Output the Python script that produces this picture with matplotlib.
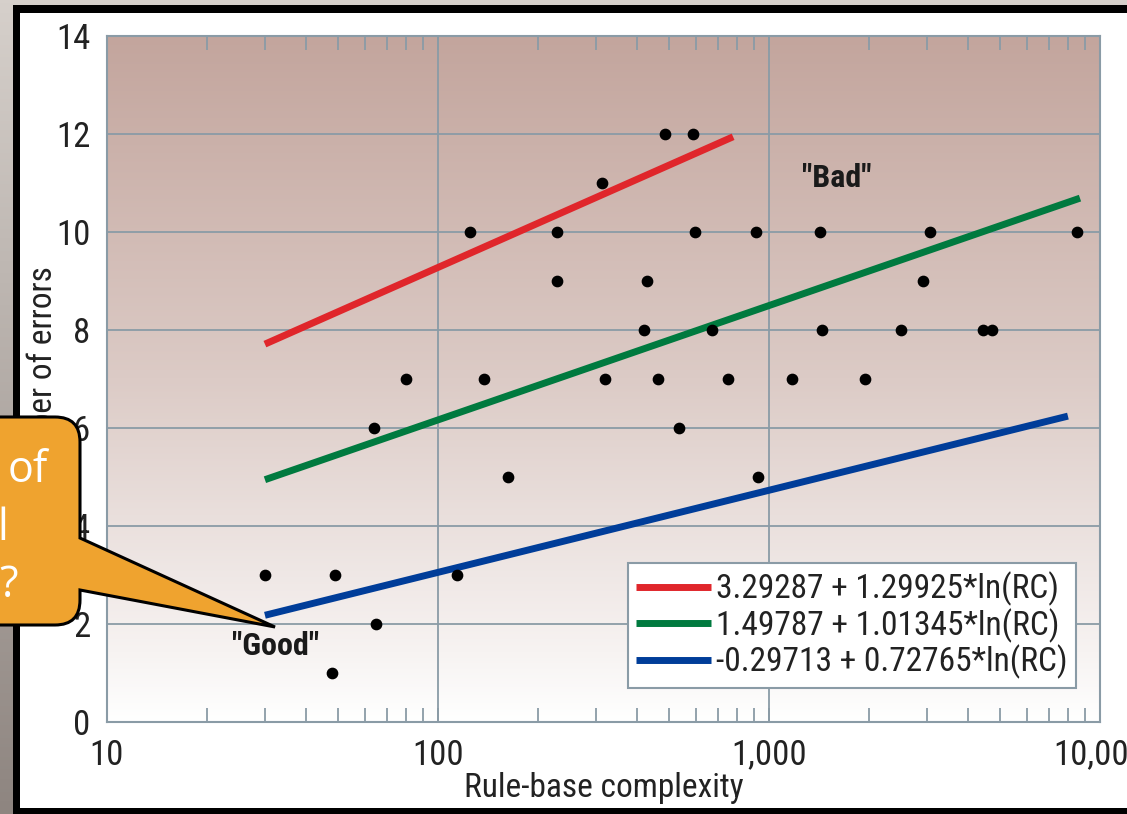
import numpy as np
import matplotlib
matplotlib.use("Agg")
import matplotlib.pyplot as plt
from matplotlib.colors import LinearSegmentedColormap
from matplotlib.path import Path
from matplotlib.patches import PathPatch, Rectangle
from matplotlib.transforms import IdentityTransform
from matplotlib.ticker import LogLocator, FuncFormatter, NullFormatter

# data
rule_complexity = [30, 49, 48, 65, 64, 80, 114, 125, 138, 163,
                   229, 229, 313, 320, 419, 428, 462, 485, 535, 589,
                   597, 673, 752, 914, 927, 1173, 1426, 1446, 1951, 2506,
                   2918, 3064, 4434, 4725, 8513]
num_errors = [3, 3, 1, 2, 6, 7, 3, 10, 7, 5,
              10, 9, 11, 7, 8, 9, 7, 12, 6, 12,
              10, 8, 7, 10, 5, 7, 10, 8, 7, 8,
              9, 10, 8, 8, 10]

# fitted curves: a + b*ln(RC)
fit_intercepts = [3.29287, 1.49787, -0.29713]
fit_slopes = [1.29925, 1.01345, 0.72765]
fit_start = [30, 30, 30]
fit_end = [779, 8700, 8000]
fit_colors = ["#e0262b", "#007a3f", "#003d99"]
fit_labels = ["3.29287 + 1.29925*ln(RC)",
              "1.49787 + 1.01345*ln(RC)",
              "-0.29713 + 0.72765*ln(RC)"]

x_ticks = [10, 100, 1000, 10000]
y_ticks = [0, 2, 4, 6, 8, 10, 12, 14]

W, H = 1127, 814
FONT = ["Roboto Condensed", "DejaVu Sans"]
GRID = "#8a9ba6"
TXT = "#222222"

def fx(x):
    return x / W

def fy(y):
    return 1 - y / H

fig = plt.figure(figsize=(W / 100, H / 100), dpi=100)

# slide background
bg = fig.add_axes([0, 0, 1, 1], zorder=-3)
bg.imshow(np.linspace(0, 1, 256).reshape(-1, 1), aspect="auto",
          cmap=LinearSegmentedColormap.from_list("slide", ["#d6d0cb", "#8e8580"]),
          extent=[0, 1, 0, 1])
bg.axis("off")

# black frame with white inside
fig.add_artist(Rectangle((fx(13), fy(840)), (1160 - 13) / W, (840 - 5) / H,
                         transform=fig.transFigure, facecolor="black",
                         edgecolor="none", zorder=-2))
fig.add_artist(Rectangle((fx(20), fy(808)), (1160 - 20) / W, (808 - 13) / H,
                         transform=fig.transFigure, facecolor="white",
                         edgecolor="none", zorder=-1))

rect = [fx(107), fy(722), (1100 - 107) / W, (722 - 36) / H]

# gradient plot background
gax = fig.add_axes(rect, zorder=0.5)
gax.imshow(np.linspace(0, 1, 256).reshape(-1, 1), aspect="auto",
           cmap=LinearSegmentedColormap.from_list(
               "plotbg", [(0, "#c3a59d"), (0.5, "#dccbc6"), (0.9, "#f7f3f2"), (1, "#ffffff")]),
           extent=[0, 1, 0, 1])
gax.axis("off")

ax = fig.add_axes(rect, zorder=1)
ax.set_facecolor("none")
ax.set_xscale("log")
ax.set_xlim(10, 10000)
ax.set_ylim(0, 14)

for a, b, x0, x1, c, lab in zip(fit_intercepts, fit_slopes, fit_start, fit_end,
                                fit_colors, fit_labels):
    xs = np.array([x0, x1])
    ax.plot(xs, a + b * np.log(xs), color=c, lw=5, label=lab,
            solid_capstyle="butt", zorder=3)

ax.scatter(rule_complexity, num_errors, s=55, color="black", zorder=4)

ax.xaxis.set_major_locator(LogLocator(base=10))
ax.xaxis.set_minor_locator(LogLocator(base=10, subs=np.arange(2, 10)))
ax.xaxis.set_minor_formatter(NullFormatter())
ax.set_xticks(x_ticks)
ax.xaxis.set_major_formatter(FuncFormatter(lambda v, p: "{:,.0f}".format(v)))
ax.set_yticks(y_ticks)

ax.grid(True, which="major", color=GRID, lw=1.3)
for s in ax.spines.values():
    s.set_color(GRID)
    s.set_linewidth(1.5)

ax.tick_params(axis="x", which="both", direction="in", top=True, bottom=True,
               length=10, width=1.3, color=GRID, pad=12, labelsize=25,
               labelcolor=TXT)
ax.tick_params(axis="y", length=0, pad=12, labelsize=25, labelcolor=TXT)
for lab in ax.get_xticklabels() + ax.get_yticklabels():
    lab.set_family(FONT)

ax.set_xlabel("Rule-base complexity", fontsize=24, family=FONT, color=TXT, labelpad=0)
ax.set_ylabel("Number of errors", fontsize=24, family=FONT, color=TXT, labelpad=-2)

ax.text(32.4, 1.55, '"Good"', ha="center", va="center", fontsize=23,
        fontweight="bold", family=FONT, color="#1a1a1a", zorder=5)
ax.text(1600, 11.1, '"Bad"', ha="center", va="center", fontsize=23,
        fontweight="bold", family=FONT, color="#1a1a1a", zorder=5)

leg = ax.legend(loc="lower right", bbox_to_anchor=(0.976, 0.05),
                prop={"family": FONT, "size": 24}, frameon=True, fancybox=False,
                edgecolor=GRID, framealpha=1, handlelength=2.25, handletextpad=0.15,
                labelspacing=0.06, borderpad=0.25, borderaxespad=0)
leg.get_frame().set_linewidth(1.5)
for t in leg.get_texts():
    t.set_color(TXT)

# orange callout over the left side
r = 25
verts = [(-100, 397), (80 - r, 397), (80, 397), (80, 397 - r), (80, 276),
         (275, 187), (80, 224), (80, 189 + r), (80, 189), (80 - r, 189),
         (-100, 189), (-100, 397)]
codes = [Path.MOVETO, Path.LINETO, Path.CURVE3, Path.CURVE3, Path.LINETO,
         Path.LINETO, Path.LINETO, Path.LINETO, Path.CURVE3, Path.CURVE3,
         Path.LINETO, Path.CLOSEPOLY]
fig.add_artist(PathPatch(Path(verts, codes), transform=IdentityTransform(),
                         facecolor="#efa32f", edgecolor="black", lw=2.2, zorder=10))
callout = dict(transform=fig.transFigure, color="white", fontsize=31,
               family=["Open Sans", "DejaVu Sans"], ha="right", va="baseline",
               zorder=11)
fig.text(fx(48), fy(482), "of", **callout)
fig.text(fx(8), fy(540), "l", **callout)
fig.text(fx(18), fy(597), "?", **callout)

fig.savefig("out.png", dpi=100)
